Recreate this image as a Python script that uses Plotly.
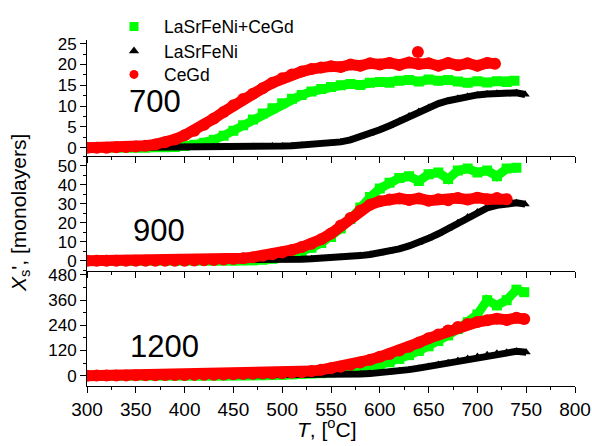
import plotly.graph_objects as go
from plotly.subplots import make_subplots

# ---------------- data ----------------
# Panel "700"
T_end_700_green, T_end_700_black, T_end_700_red = 738, 749, 718
y700_green = [0.0, 0.0, 0.0, 0.0, 0.0, 0.0, 0.0, 0.1, 0.1, 0.2, 0.4, 0.7, 1.2, 1.9, 2.9, 4.1,
              5.4, 6.8, 8.2, 9.5, 10.7, 11.8, 12.7, 13.5, 14.1, 14.6, 15.0, 15.3, 15.1, 15.6,
              15.8, 15.6, 16.1, 16.3, 15.9, 16.4, 16.1, 16.3, 15.9, 15.6, 16.0, 15.7, 16.0, 15.8, 16.1]
y700_black = [0.0, 0.0, 0.0, 0.0, 0.0, 0.0, 0.0, 0.0, 0.0, 0.1, 0.1, 0.1, 0.1, 0.1, 0.2, 0.2,
              0.2, 0.3, 0.3, 0.4, 0.4, 0.5, 0.6, 0.7, 0.9, 1.1, 1.4, 1.9, 2.6, 3.4, 4.3, 5.3,
              6.4, 7.6, 8.7, 9.7, 10.6, 11.3, 11.9, 12.4, 12.7, 12.9, 13.1, 13.0, 13.2, 12.8]
y700_red = [0.0, 0.0, 0.0, 0.1, 0.2, 0.3, 0.5, 0.8, 1.3, 2.0, 3.0, 4.1, 5.5, 7.0, 8.6, 10.2,
            11.7, 13.0, 14.3, 15.6, 16.7, 17.6, 18.3, 18.9, 19.3, 19.6, 19.4, 20.0, 19.7, 20.3,
            20.0, 20.4, 19.9, 20.5, 20.1, 20.3, 19.7, 20.4, 19.8, 20.3, 19.7, 20.4, 20.2]
T700_red_spike = [639]
y700_red_spike = [23.0]

# Panel "900"
T_end_900_green, T_end_900_black, T_end_900_red = 740, 749, 730
y900_green = [0, 0, 0, 0, 0, 0, 0, 0, 0, 0, 0, 0, 0, 0, 0, 0,
              0.1, 0.2, 0.5, 1.0, 2.0, 3.2, 4.8, 6.8, 9.3, 12.5, 17.0, 22.0, 28.0, 33.5,
              38.0, 41.0, 43.5, 44.5, 42.0, 45.5, 46.5, 43.0, 47.5, 48.5, 46.5, 47.5, 44.5, 48.5, 49.0]
y900_black = [0, 0, 0, 0, 0, 0, 0.1, 0.1, 0.1, 0.1, 0.2, 0.2, 0.2, 0.2, 0.3, 0.3,
              0.3, 0.4, 0.4, 0.5, 0.5, 0.6, 0.8, 1.0, 1.2, 1.5, 1.8, 2.2, 2.7, 3.3, 4.0, 5.0,
              6.2, 7.8, 9.6, 11.8, 14.2, 17.0, 20.0, 23.0, 25.7, 27.8, 29.2, 30.0, 30.5, 29.8]
y900_red = [0, 0, 0, 0, 0, 0, 0, 0, 0, 0, 0, 0.1, 0.2, 0.4, 0.6, 0.9,
            1.3, 1.9, 2.6, 3.4, 4.4, 5.7, 7.2, 9.0, 11.3, 14.3, 18.5, 22.5, 26.5, 29.5,
            31.3, 32.2, 32.8, 32.0, 32.8, 31.6, 32.4, 31.8, 33.0, 32.2, 33.2, 32.4, 33.0, 32.4]

# Panel "1200"
T_end_1200_green, T_end_1200_black, T_end_1200_red = 748, 750, 748
y1200_green = [0, 0, 0, 0, 0, 0, 0, 0, 0, 0, 0, 0, 0, 0, 0,
               0.5, 1, 1.5, 2, 3, 4, 6, 8, 10, 12, 16, 20, 26, 33, 42, 52, 64, 80, 98,
               118, 140, 165, 192, 222, 255, 292, 360, 335, 360, 410, 398]
y1200_black = [0, 0, 0, 0, 0, 0, 0, 0, 0, 0, 0, 0, 0, 0, 0, 0, 0, 0, 0, 0, 0,
               0.5, 1, 1.5, 2, 3, 4, 6, 8, 10, 13, 17, 22, 29, 36, 44, 53, 62, 72, 82,
               91, 100, 107, 112, 116, 112]
y1200_red = [0, 0.5, 1, 1, 1.5, 2, 2, 2.5, 3, 3, 3.5, 4, 4.5, 5, 6, 7, 8, 9, 10, 11,
             12, 14, 17, 22, 28, 35, 43, 52, 63, 76, 90, 104, 120, 138, 158, 178, 196,
             216, 232, 246, 256, 264, 272, 266, 276, 270]

series_names = ["LaSrFeNi+CeGd", "LaSrFeNi", "CeGd"]
panel_labels = ["700", "900", "1200"]
x_ticks = [300, 350, 400, 450, 500, 550, 600, 650, 700, 750, 800]


def tgrid(values, t_end):
    # temperatures sampled every 10 degC from 300, last sample at t_end
    return [300 + 10 * i for i in range(len(values) - 1)] + [t_end]


panels = [
    [(y700_green, T_end_700_green), (y700_black, T_end_700_black), (y700_red, T_end_700_red)],
    [(y900_green, T_end_900_green), (y900_black, T_end_900_black), (y900_red, T_end_900_red)],
    [(y1200_green, T_end_1200_green), (y1200_black, T_end_1200_black), (y1200_red, T_end_1200_red)],
]

colors = ["#00ff00", "#000000", "#ff0000"]
symbols = ["square", "triangle-up", "circle"]
msizes = [10, 8, 12]
lwidths = [9, 7, 11]
legend_msizes = [9, 9, 9]
legends = ["legend", "legend2", "legend3"]

fig = make_subplots(rows=3, cols=1, shared_xaxes=True, vertical_spacing=0)

for r, panel in enumerate(panels, start=1):
    for k, (vals, tend) in enumerate(panel):
        T = tgrid(vals, tend)
        fig.add_trace(go.Scatter(x=T, y=vals, mode="lines",
                                 line=dict(color=colors[k], width=lwidths[k]),
                                 showlegend=False, hoverinfo="skip"), row=r, col=1)
        fig.add_trace(go.Scatter(x=T, y=vals, mode="markers", name=series_names[k],
                                 marker=dict(color=colors[k], symbol=symbols[k], size=msizes[k],
                                             line=dict(width=0)),
                                 showlegend=False), row=r, col=1)
        if r == 1 and k == 2:
            fig.add_trace(go.Scatter(x=T700_red_spike, y=y700_red_spike, mode="markers",
                                     marker=dict(color=colors[2], symbol="circle", size=msizes[2]),
                                     showlegend=False), row=1, col=1)

# legend entries (markers only, no visible points)
for k in range(3):
    fig.add_trace(go.Scatter(x=[None], y=[None], mode="markers", name=series_names[k],
                             marker=dict(color=colors[k], symbol=symbols[k], size=legend_msizes[k],
                                         line=dict(width=0)),
                             showlegend=True, legend=legends[k]), row=1, col=1)

FONT = "Arial, Liberation Sans, sans-serif"
# geometry: plot area x 87..575, y 40..386 (pixels)
H_T, H_B = 10, 60
PH = 446 - H_T - H_B


def py(p):
    return (386 - p) / PH


def px(p):
    return (p - 87) / 488


dom3 = [0, py(271)]
dom2 = [py(271), py(155.5)]
dom1 = [py(155.5), py(40)]

axis_common = dict(showline=True, linecolor="#000", linewidth=1, showgrid=False, zeroline=False,
                   ticks="outside", tickcolor="#000", ticklen=6, tickwidth=1, automargin=False)
xcommon = dict(axis_common, range=[300, 800], tickvals=x_ticks,
               minor=dict(dtick=25, ticks="outside", ticklen=3, tickcolor="#000", tick0=300))

fig.update_layout(
    xaxis=dict(xcommon, showticklabels=False),
    xaxis2=dict(xcommon, showticklabels=False),
    xaxis3=dict(xcommon, showticklabels=True, tickfont=dict(family=FONT, size=19, color="#000")),
    yaxis=dict(axis_common, domain=dom1, range=[-1.87, 25.9], tickvals=[0, 5, 10, 15, 20, 25],
               minor=dict(dtick=2.5, ticks="outside", ticklen=3, tickcolor="#000", tick0=0),
               tickfont=dict(family=FONT, size=17, color="#000")),
    yaxis2=dict(axis_common, domain=dom2, range=[-5.4, 55.4], tickvals=[0, 10, 20, 30, 40, 50],
                minor=dict(dtick=5, ticks="outside", ticklen=3, tickcolor="#000", tick0=0),
                tickfont=dict(family=FONT, size=17, color="#000")),
    yaxis3=dict(axis_common, domain=dom3, range=[-49, 499], tickvals=[0, 120, 240, 360, 480],
                minor=dict(dtick=60, ticks="outside", ticklen=3, tickcolor="#000", tick0=0),
                tickfont=dict(family=FONT, size=17, color="#000")),
    width=592, height=446,
    margin=dict(l=87, r=17, t=H_T, b=H_B, autoexpand=False),
    paper_bgcolor="white", plot_bgcolor="white",
    font=dict(family=FONT, color="#000"),
)

legend_rows = [26.5, 51.0, 74.5]
for name, row in zip(legends, legend_rows):
    fig.update_layout({name: dict(x=px(104), y=py(row), xanchor="left", yanchor="middle",
                                  bgcolor="rgba(0,0,0,0)", borderwidth=0, itemwidth=50,
                                  font=dict(family=FONT, size=17.5, color="#000"))})

label_pos = [(155, 102), (159, 230), (164.5, 346)]
for lab, (lx, ly) in zip(panel_labels, label_pos):
    fig.add_annotation(text=lab, x=px(lx), y=py(ly), xref="paper", yref="paper",
                       xanchor="center", yanchor="middle", showarrow=False,
                       font=dict(family=FONT, size=31, color="#000"))

fig.add_annotation(text="<i>X</i><sub>s</sub>', [monolayers]", x=px(20), y=py(213),
                   xref="paper", yref="paper", textangle=-90, showarrow=False,
                   xanchor="center", yanchor="middle",
                   font=dict(family=FONT, size=21, color="#000"))
fig.add_annotation(text="<i>T</i>, [<sup>o</sup>C]", x=px(327), y=py(428),
                   xref="paper", yref="paper", showarrow=False,
                   xanchor="center", yanchor="middle",
                   font=dict(family=FONT, size=21, color="#000"))

fig.write_html("out.html")
